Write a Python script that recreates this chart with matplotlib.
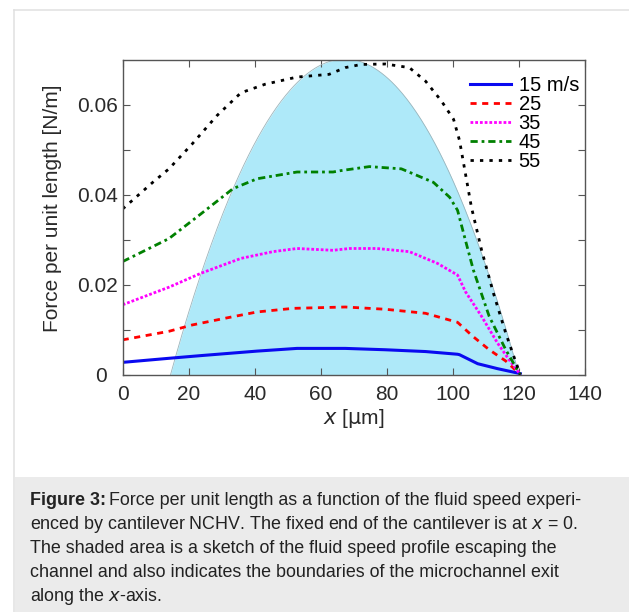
import numpy as np
import matplotlib.pyplot as plt
from matplotlib.patches import Rectangle
from matplotlib.lines import Line2D

plt.rcParams['font.family'] = ['Liberation Sans', 'DejaVu Sans']

# Force per unit length [N/m] vs position x [um], one curve per fluid speed
x_15 = [0, 14, 23.7, 40.7, 52.8, 67.4, 79.5, 91.7, 101.4, 102, 107.5, 113.5, 120.4]
f_15 = [0.0027, 0.0036, 0.0042, 0.0052, 0.0058, 0.0058, 0.0055, 0.0051, 0.0045, 0.0044, 0.0024, 0.0013, 0.0002]

x_25 = [0, 14, 21, 31, 40.7, 51.6, 67.4, 79.5, 91.7, 101.4, 106, 111, 116, 120.4]
f_25 = [0.0077, 0.0096, 0.011, 0.0125, 0.0139, 0.0147, 0.0150, 0.0145, 0.0136, 0.0116, 0.0085, 0.0055, 0.003, 0.0]

x_35 = [0, 14, 23.7, 35.8, 45.5, 52.8, 63.7, 68.6, 77, 86.8, 95.3, 101.4, 103.8, 108.7, 113.5, 117, 120.4]
f_35 = [0.0155, 0.0194, 0.0225, 0.0258, 0.0273, 0.028, 0.0276, 0.028, 0.028, 0.0273, 0.0247, 0.0221,
        0.0184, 0.0129, 0.007, 0.0033, 0.0]

x_45 = [0, 14, 23.7, 33.4, 40.7, 52.8, 63.7, 66, 74.7, 84.4, 94.1, 99, 101.4, 103.8, 106.2, 111, 116, 118.6, 120.4]
f_45 = [0.0251, 0.0302, 0.0357, 0.0413, 0.0435, 0.045, 0.045, 0.0453, 0.0462, 0.0457, 0.0427, 0.0394,
        0.0365, 0.0298, 0.0232, 0.0129, 0.0055, 0.0022, 0.0]

x_55 = [0, 9.1, 14, 21, 28.5, 35.8, 43.1, 52.8, 62.5, 67.4, 72.2, 79.5, 86.8, 91.7, 96.5, 100.2, 102,
        103.8, 105.6, 108.7, 112.3, 116, 118.4, 120.4]
f_55 = [0.0368, 0.0427, 0.0457, 0.0512, 0.0575, 0.0626, 0.0645, 0.0661, 0.0667, 0.0682, 0.0689, 0.069,
        0.0682, 0.0652, 0.0608, 0.0567, 0.052, 0.0446, 0.0372, 0.0276, 0.018, 0.0092, 0.0041, 0.0]

labels = ['15 m/s', '25', '35', '45', '55']
ytick_labels = ['0\u2002', '', '0.02', '', '0.04', '', '0.06']

# sketch of the fluid speed profile (channel exit edges and peak height)
channel_edges = [14.5, 120.0]
profile_peak = 0.0701

W, H = 629, 612
fig = plt.figure(figsize=(W / 100, H / 100), dpi=100)

# page frame and caption box
fig.add_artist(Line2D([14/W, 14/W], [0, 1 - 9.5/H], color='#e0e0e0', lw=1.1))
fig.add_artist(Line2D([14/W, 1], [1 - 9.5/H, 1 - 9.5/H], color='#e0e0e0', lw=1.1))
fig.add_artist(Rectangle((15/W, 0), 1, 135/H, color='#ebebeb', lw=0))

ax = fig.add_axes([122.7/W, 1 - 374.5/H, 462.3/W, 315/H])

xs = np.linspace(channel_edges[0], channel_edges[1], 300)
mid = (channel_edges[0] + channel_edges[1]) / 2
half = (channel_edges[1] - channel_edges[0]) / 2
prof = profile_peak * (1 - ((xs - mid) / half) ** 2)
ax.fill_between(xs, 0, prof, color='#aee9f9', lw=0)
ax.plot(xs, prof, color='#9ab4bb', lw=0.6)

ax.plot(x_15, f_15, color='#0a0af0', lw=2.2, label=labels[0])
ax.plot(x_25, f_25, color='#ff0000', lw=2.0, dashes=(2.2, 2.0), label=labels[1])
ax.plot(x_35, f_35, color='#ff00ff', lw=2.0, dashes=(1.0, 0.7), label=labels[2])
ax.plot(x_45, f_45, color='#008000', lw=2.0, dashes=(2.6, 1.4, 1.0, 1.4), label=labels[3])
ax.plot(x_55, f_55, color='black', lw=2.0, dashes=(1.2, 2.2), label=labels[4])

ax.set_xlim(0, 140)
ax.set_ylim(0, 0.07)
ax.set_xticks(np.arange(0, 141, 20))
ax.set_yticks(np.arange(0, 0.065, 0.01))
ax.set_yticklabels(ytick_labels)
ax.tick_params(direction='in', length=5, width=0.8, colors='#555555', labelcolor='#2a2a2a',
               labelsize=15, top=True, right=True)
ax.tick_params(axis='x', pad=7.5)
ax.tick_params(axis='y', pad=3.2)
for s in ax.spines.values():
    s.set_color('#555555')
    s.set_linewidth(1.0)

ax.set_ylabel('Force per unit length [N/m]', fontsize=15, color='#2a2a2a')
ax.yaxis.set_label_coords(-0.131, 0.527)
ax.set_xlabel(r'$\mathit{x}$ [$\mathrm{\mu}$m]', fontsize=15, color='#2a2a2a', labelpad=2)

ax.legend(loc='upper right', frameon=False, fontsize=14.5, handlelength=2.0, handletextpad=0.4,
          labelspacing=0.0, borderaxespad=0.0, borderpad=0.3, bbox_to_anchor=(1.0, 0.966))

cap_x = 30 / W
cap_size = 12.9
base0 = 505
dy = 24
lines = [
    None,
    'enced by cantilever NCHV. The fixed end of the cantilever is at $\\mathit{x}$ = 0.',
    'The shaded area is a sketch of the fluid speed profile escaping the',
    'channel and also indicates the boundaries of the microchannel exit',
    'along the $\\mathit{x}$-axis.',
]
t = fig.text(cap_x, 1 - base0 / H, 'Figure 3:', fontsize=cap_size, weight='bold', va='baseline',
             color='#222222')
fig.canvas.draw()
bb = t.get_window_extent()
fig.text(bb.x1 / fig.bbox.width + 0.005, 1 - base0 / H,
         'Force per unit length as a function of the fluid speed experi-',
         fontsize=cap_size, va='baseline', color='#222222')
for i, ln in enumerate(lines[1:], start=1):
    fig.text(cap_x, 1 - (base0 + i * dy) / H, ln, fontsize=cap_size, va='baseline', color='#222222')

fig.savefig('out.png', dpi=100)
